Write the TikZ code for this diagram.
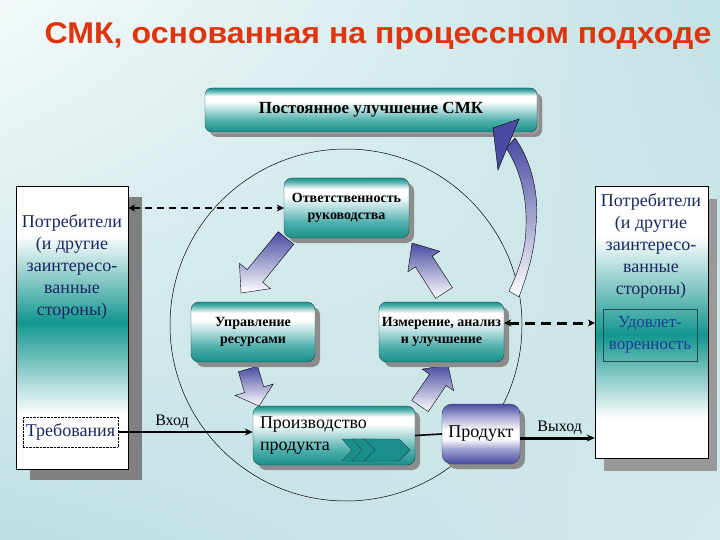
\documentclass[tikz,border=0pt]{standalone}
\usepackage{fontspec}
\setmainfont{Liberation Serif}
\newfontfamily\bodyfont{Liberation Serif}
\newfontfamily\titlefont{Liberation Sans}
\usetikzlibrary{calc,shadows,shadings,arrows.meta}

\definecolor{bgA}{HTML}{F4FAFA}
\definecolor{bgB}{HTML}{C2E2E5}
\definecolor{bgC}{HTML}{BDDFE2}
\definecolor{bgD}{HTML}{D2E9EB}
\definecolor{tealD}{HTML}{1A8E8A}
\definecolor{tealM}{HTML}{4FB0AD}
\definecolor{tealL}{HTML}{BFE3E2}
\definecolor{tealS}{HTML}{139690}
\definecolor{purpD}{HTML}{4A4AA2}
\definecolor{purpL}{HTML}{9C9CCF}
\definecolor{boxline}{HTML}{1E4B4B}
\definecolor{titlered}{HTML}{E0340F}
\definecolor{navy}{HTML}{1A2660}
\definecolor{satblue}{HTML}{1E3C96}

\pgfdeclareverticalshading{tealbox}{100bp}{color(0bp)=(tealD); color(25bp)=(tealD);
  color(38bp)=(tealM); color(52bp)=(tealL); color(60bp)=(white); color(66bp)=(white);
  color(72bp)=(tealM); color(75bp)=(tealD); color(100bp)=(tealD)}
\pgfdeclareverticalshading{prodbox}{100bp}{color(0bp)=(purpD); color(25bp)=(purpD);
  color(37bp)=(purpL); color(46bp)=(white); color(53bp)=(white);
  color(66bp)=(purpL); color(75bp)=(purpD); color(100bp)=(purpD)}

\tikzset{
  box/.style={draw=boxline, rounded corners=8pt, shading=tealbox, align=center,
    inner sep=2pt, font=\bodyfont\bfseries\fontsize{14}{17}\selectfont,
    drop shadow={shadow xshift=5pt, shadow yshift=-5pt, fill=black!45, opacity=1}},
  productbox/.style={draw=boxline, rounded corners=10pt, shading=prodbox,
    inner sep=2pt, font=\bodyfont\fontsize{18}{20}\selectfont,
    drop shadow={shadow xshift=5pt, shadow yshift=-5pt, fill=black!45, opacity=1}},
  bigbox/.style={draw=black, thin, fill=white, inner sep=0pt},
  sidetext/.style={align=center, text=navy, font=\bodyfont\fontsize{18}{22}\selectfont},
  fatarrow/.style={draw=black, thin, top color=purpD, bottom color=white},
  dasharrow/.style={line width=1.6pt, dash pattern=on 7pt off 5pt,
    {Stealth[length=7pt,width=7pt]}-{Stealth[length=7pt,width=7pt]}},
  flowarrow/.style={line width=2.6pt, -{Stealth[length=8pt,width=7pt]}},
  lbl/.style={font=\bodyfont\fontsize{16}{18}\selectfont, inner sep=2pt},
  chevron/.style={draw=boxline, fill=tealD, thin}
}

% block arrow: tail, tip, shaft half width, head half width, head length
\newcommand\fatarr[5]{%
  \coordinate (fa-h) at ($(#2)!#5!(#1)$);
  \draw[fatarrow] ($(#1)!#3!90:(#2)$) -- ($(fa-h)!#3!90:(#2)$) -- ($(fa-h)!#4!90:(#2)$)
    -- (#2) -- ($(fa-h)!#4!-90:(#2)$) -- ($(fa-h)!#3!-90:(#2)$) -- ($(#1)!#3!-90:(#2)$) -- cycle;}

% teal band of a side box: node, y top, y peak, y bottom
\newcommand\sideband[4]{%
  \shade[top color=white, bottom color=tealS] (#1.west |- 0,#2) rectangle (#1.east |- 0,#3);
  \shade[top color=tealS, bottom color=white] (#1.west |- 0,#3) rectangle (#1.east |- 0,#4);
  \draw[thin] (#1.north west) rectangle (#1.south east);}

\begin{document}
\begin{tikzpicture}[x=1pt,y=-1pt]
\useasboundingbox (0,0) rectangle (720,540);
\shade[upper left=bgA, upper right=bgB, lower left=bgC, lower right=bgD] (0,0) rectangle (720,540);

% title
\node[text=titlered, font=\titlefont\bfseries\fontsize{30}{34}\selectfont] (title) at (378,36)
  {\scalebox{1.07}[1]{СМК, основанная на процессном подходе}};

% top box
\node[box, rounded corners=7pt, minimum width=332pt, minimum height=44pt,
  font=\bodyfont\bfseries\fontsize{17}{19}\selectfont, drop shadow={shadow xshift=2pt, shadow yshift=-2pt, fill=black!30}]
  (cmk) at (371,110) {Постоянное улучшение СМК};

% circle of the process model
\draw[line width=0.5pt] (346,325) circle [radius=176];

% side boxes
\node[bigbox, minimum width=112pt, minimum height=283pt,
  drop shadow={shadow xshift=14pt, shadow yshift=-11pt, fill=black!50, opacity=1}]
  (leftbox) at (72,327.5) {};
\sideband{leftbox}{235}{322}{415}
\node[sidetext] (lefttxt) at (72,267) {Потребители\\(и другие\\заинтересо-\\ванные\\стороны)};
\node[draw, densely dotted, thin, minimum width=95pt, minimum height=30pt, inner sep=1pt, text=navy,
  font=\bodyfont\fontsize{18}{20}\selectfont] (treb) at (70.5,432) {Требования};

\node[bigbox, minimum width=113pt, minimum height=272pt,
  drop shadow={shadow xshift=9pt, shadow yshift=-13pt, fill=black!40, opacity=1}]
  (rightbox) at (651.5,322) {};
\sideband{rightbox}{235}{335}{418}
\node[sidetext] (righttxt) at (651,246) {Потребители\\(и другие\\заинтересо-\\ванные\\стороны)};
\node[draw=boxline, thick, minimum width=94pt, minimum height=52pt, align=center, text=satblue,
  font=\bodyfont\fontsize{17}{22}\selectfont] (udovl) at (650,335) {Удовлет-\\воренность};

% block arrows
\coordinate (a1) at (286,238); \coordinate (b1) at (241,293);
\coordinate (a2) at (248,369); \coordinate (b2) at (259,406);
\coordinate (a3) at (444,293); \coordinate (b3) at (412,243);
\coordinate (a4) at (420,406); \coordinate (b4) at (448,365);
\fatarr{a1}{b1}{10pt}{20pt}{22pt}
\fatarr{a2}{b2}{10pt}{20pt}{17pt}
\fatarr{a3}{b3}{10pt}{19pt}{22pt}
\fatarr{a4}{b4}{10pt}{19pt}{18pt}

% process boxes
\node[box, minimum width=125pt, minimum height=60pt] (otv) at (346.5,208)
  {Ответственность\\руководства};
\node[box, minimum width=124pt, minimum height=60pt] (upr) at (253,332)
  {Управление\\ресурсами};
\node[box, minimum width=125pt, minimum height=60pt] (izm) at (441.5,332)
  {Измерение, анализ\\и улучшение};
\node[box, minimum width=162pt, minimum height=59pt, align=left, text width=148pt,
  font=\bodyfont\fontsize{18}{22}\selectfont] (proizv) at (334,435.5) {Производство\\продукта};
\node[productbox, minimum width=78pt, minimum height=60pt] (produkt) at (481,434) {Продукт};

% chevrons
\draw[chevron] (342,439) -- (364,439) -- (374,450) -- (364,461) -- (342,461) -- (352,450) -- cycle;
\draw[chevron] (352,439) -- (374,439) -- (384,450) -- (374,461) -- (352,461) -- (362,450) -- cycle;
\draw[chevron] (364,439) -- (399,439) -- (410,450) -- (399,461) -- (364,461) -- (375,450) -- cycle;

% continual improvement arrow
\shade[draw=black, thin, top color=purpD, bottom color=white]
  (515,138) .. controls (534,165) and (539,200) .. (536,225)
  .. controls (534,255) and (527,275) .. (519,297) -- (509,291)
  .. controls (519,270) and (526,250) .. (526,225)
  .. controls (527,200) and (521,170) .. (506,148) -- cycle;
\draw[draw=black, thin, fill=purpD] (519,119) -- (498,170) -- (493,128) -- cycle;

% connectors
\draw[dasharrow] (otv.west -| leftbox.east) -- (otv.west);
\draw[dasharrow, line width=3pt, dash pattern=on 10pt off 6pt] (izm.east |- 0,323) coordinate (izmr)
  -- (rightbox.west |- izmr);
\draw[flowarrow] (treb.east) -- node[lbl, pos=0.4, above] {Вход} (treb.east -| proizv.west);
\draw[line width=1.6pt] (proizv.east) -- (produkt.west);
\draw[flowarrow, line width=3pt] (produkt.east |- 0,438) coordinate (vyh)
  -- node[lbl, pos=0.53, above] {Выход} (rightbox.west |- vyh);
\end{tikzpicture}
\end{document}
